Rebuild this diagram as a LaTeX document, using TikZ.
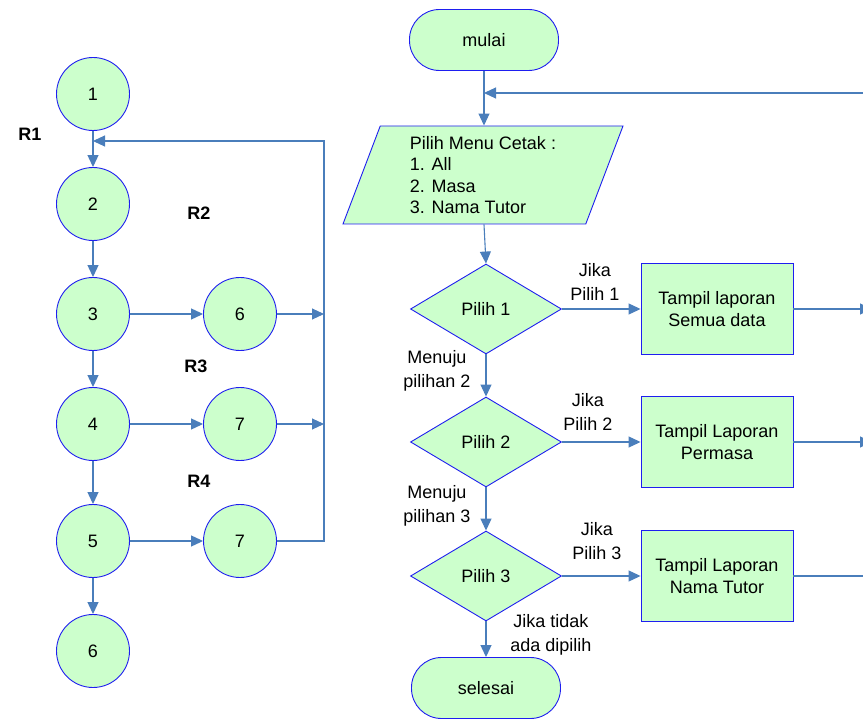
\documentclass[tikz,border=0pt]{standalone}
\usepackage{fontspec}
\setmainfont{Liberation Sans}
\usetikzlibrary{shapes.geometric,arrows.meta}
\definecolor{fillg}{RGB}{204,255,204}
\definecolor{edgeb}{RGB}{30,30,240}
\definecolor{conn}{RGB}{74,126,187}
\begin{document}
\begin{tikzpicture}[x=1pt,y=-1pt,
  every node/.style={font=\fontsize{18}{22}\selectfont, inner sep=0pt},
  vert/.style={circle, draw=edgeb, line width=0.9pt, fill=fillg, minimum size=73pt},
  term/.style={rectangle, rounded corners=30pt, draw=edgeb, line width=0.9pt, fill=fillg, minimum width=149pt, minimum height=61pt},
  dec/.style={diamond, aspect=1.68, draw=edgeb, line width=0.9pt, fill=fillg, minimum width=151pt, minimum height=90pt},
  proc/.style={rectangle, draw=edgeb, line width=0.9pt, fill=fillg, minimum width=152pt, minimum height=91pt, align=center},
  lab/.style={align=center, font=\fontsize{18}{23.5}\selectfont},
  rlab/.style={font=\fontsize{18}{22}\selectfont\bfseries},
  link/.style={draw=conn, line width=1.1pt},
  arr/.style={link, -{Triangle[length=12pt,width=11pt]}}
]
\useasboundingbox (0,0) rectangle (863,719);
\clip (0,0) rectangle (863,719);
% ---- left flow graph ----
\node[vert] (n1) at (93,94) {1};
\node[vert] (n2) at (93,204) {2};
\node[vert] (n3) at (93,314) {3};
\node[vert] (n4) at (93,424) {4};
\node[vert] (n5) at (93,541) {5};
\node[vert] (n6b) at (93,651) {6};
\node[vert] (n6) at (240,314) {6};
\node[vert] (n7a) at (240,424) {7};
\node[vert] (n7b) at (240,541) {7};
\coordinate (jtop) at (324,141);
\coordinate (j6) at (324,314);
\coordinate (j7) at (324,424);
\coordinate (jbot) at (324,541);
\node[rlab] (r1) at (30,134) {R1};
\node[rlab] (r2) at (199,213) {R2};
\node[rlab] (r3) at (196,366) {R3};
\node[rlab] (r4) at (199,481) {R4};
\draw[arr] (n1) -- (n2);
\draw[arr] (n2) -- (n3);
\draw[arr] (n3) -- (n4);
\draw[arr] (n4) -- (n5);
\draw[arr] (n5) -- (n6b);
\draw[arr] (n3) -- (n6);
\draw[arr] (n4) -- (n7a);
\draw[arr] (n5) -- (n7b);
\draw[arr] (n6) -- (j6);
\draw[arr] (n7a) -- (j7);
\draw[arr] (n7b) -- (jbot) -- (jtop) -- (n1 |- jtop);
% ---- flowchart ----
\node[term] (mulai) at (484,40) {mulai};
\node[trapezium, trapezium left angle=64.4, trapezium right angle=115.6, trapezium stretches body,
      draw=edgeb, line width=0.9pt, fill=fillg, minimum width=280pt, minimum height=98pt,
      align=left, font=\fontsize{18}{21.5}\selectfont] (menu) at (483,175) {Pilih Menu Cetak :\\1. All\\2. Masa\\3. Nama Tutor};
\node[dec] (d1) at (486,309) {Pilih 1};
\node[dec] (d2) at (486,442) {Pilih 2};
\node[dec] (d3) at (486,576) {Pilih 3};
\node[proc] (b1) at (717,309) {Tampil laporan\\Semua data};
\node[proc] (b2) at (717,442) {Tampil Laporan\\Permasa};
\node[proc] (b3) at (717,576) {Tampil Laporan\\Nama Tutor};
\node[term] (selesai) at (486,688) {selesai};
\coordinate (loopR) at (866,93);
\coordinate (o1) at (872,309);
\coordinate (o2) at (872,442);
\coordinate (o3) at (875,576);
\node[lab] (l1) at (595,282) {Jika\\Pilih 1};
\node[lab] (l2) at (588,412) {Jika\\Pilih 2};
\node[lab] (l3) at (597,541) {Jika\\Pilih 3};
\node[lab] (m2) at (437,371) {Menuju\\pilihan 2};
\node[lab] (m3) at (437,506) {Menuju\\pilihan 3};
\node[lab] (jt) at (551,635) {Jika tidak\\ada dipilih};
\draw[arr] (mulai) -- (mulai |- menu.north);
\draw[arr] (loopR) -- (mulai.south |- loopR);
\draw[arr] (mulai |- menu.south) -- (d1.north);
\draw[arr] (d1) -- (b1);
\draw[arr] (d2) -- (b2);
\draw[arr] (d3) -- (b3);
\draw[arr] (d1) -- (d2);
\draw[arr] (d2) -- (d3);
\draw[arr] (d3) -- (selesai);
\draw[arr] (b1) -- (o1);
\draw[arr] (b2) -- (o2);
\draw[arr] (b3) -- (o3);
\end{tikzpicture}
\end{document}
